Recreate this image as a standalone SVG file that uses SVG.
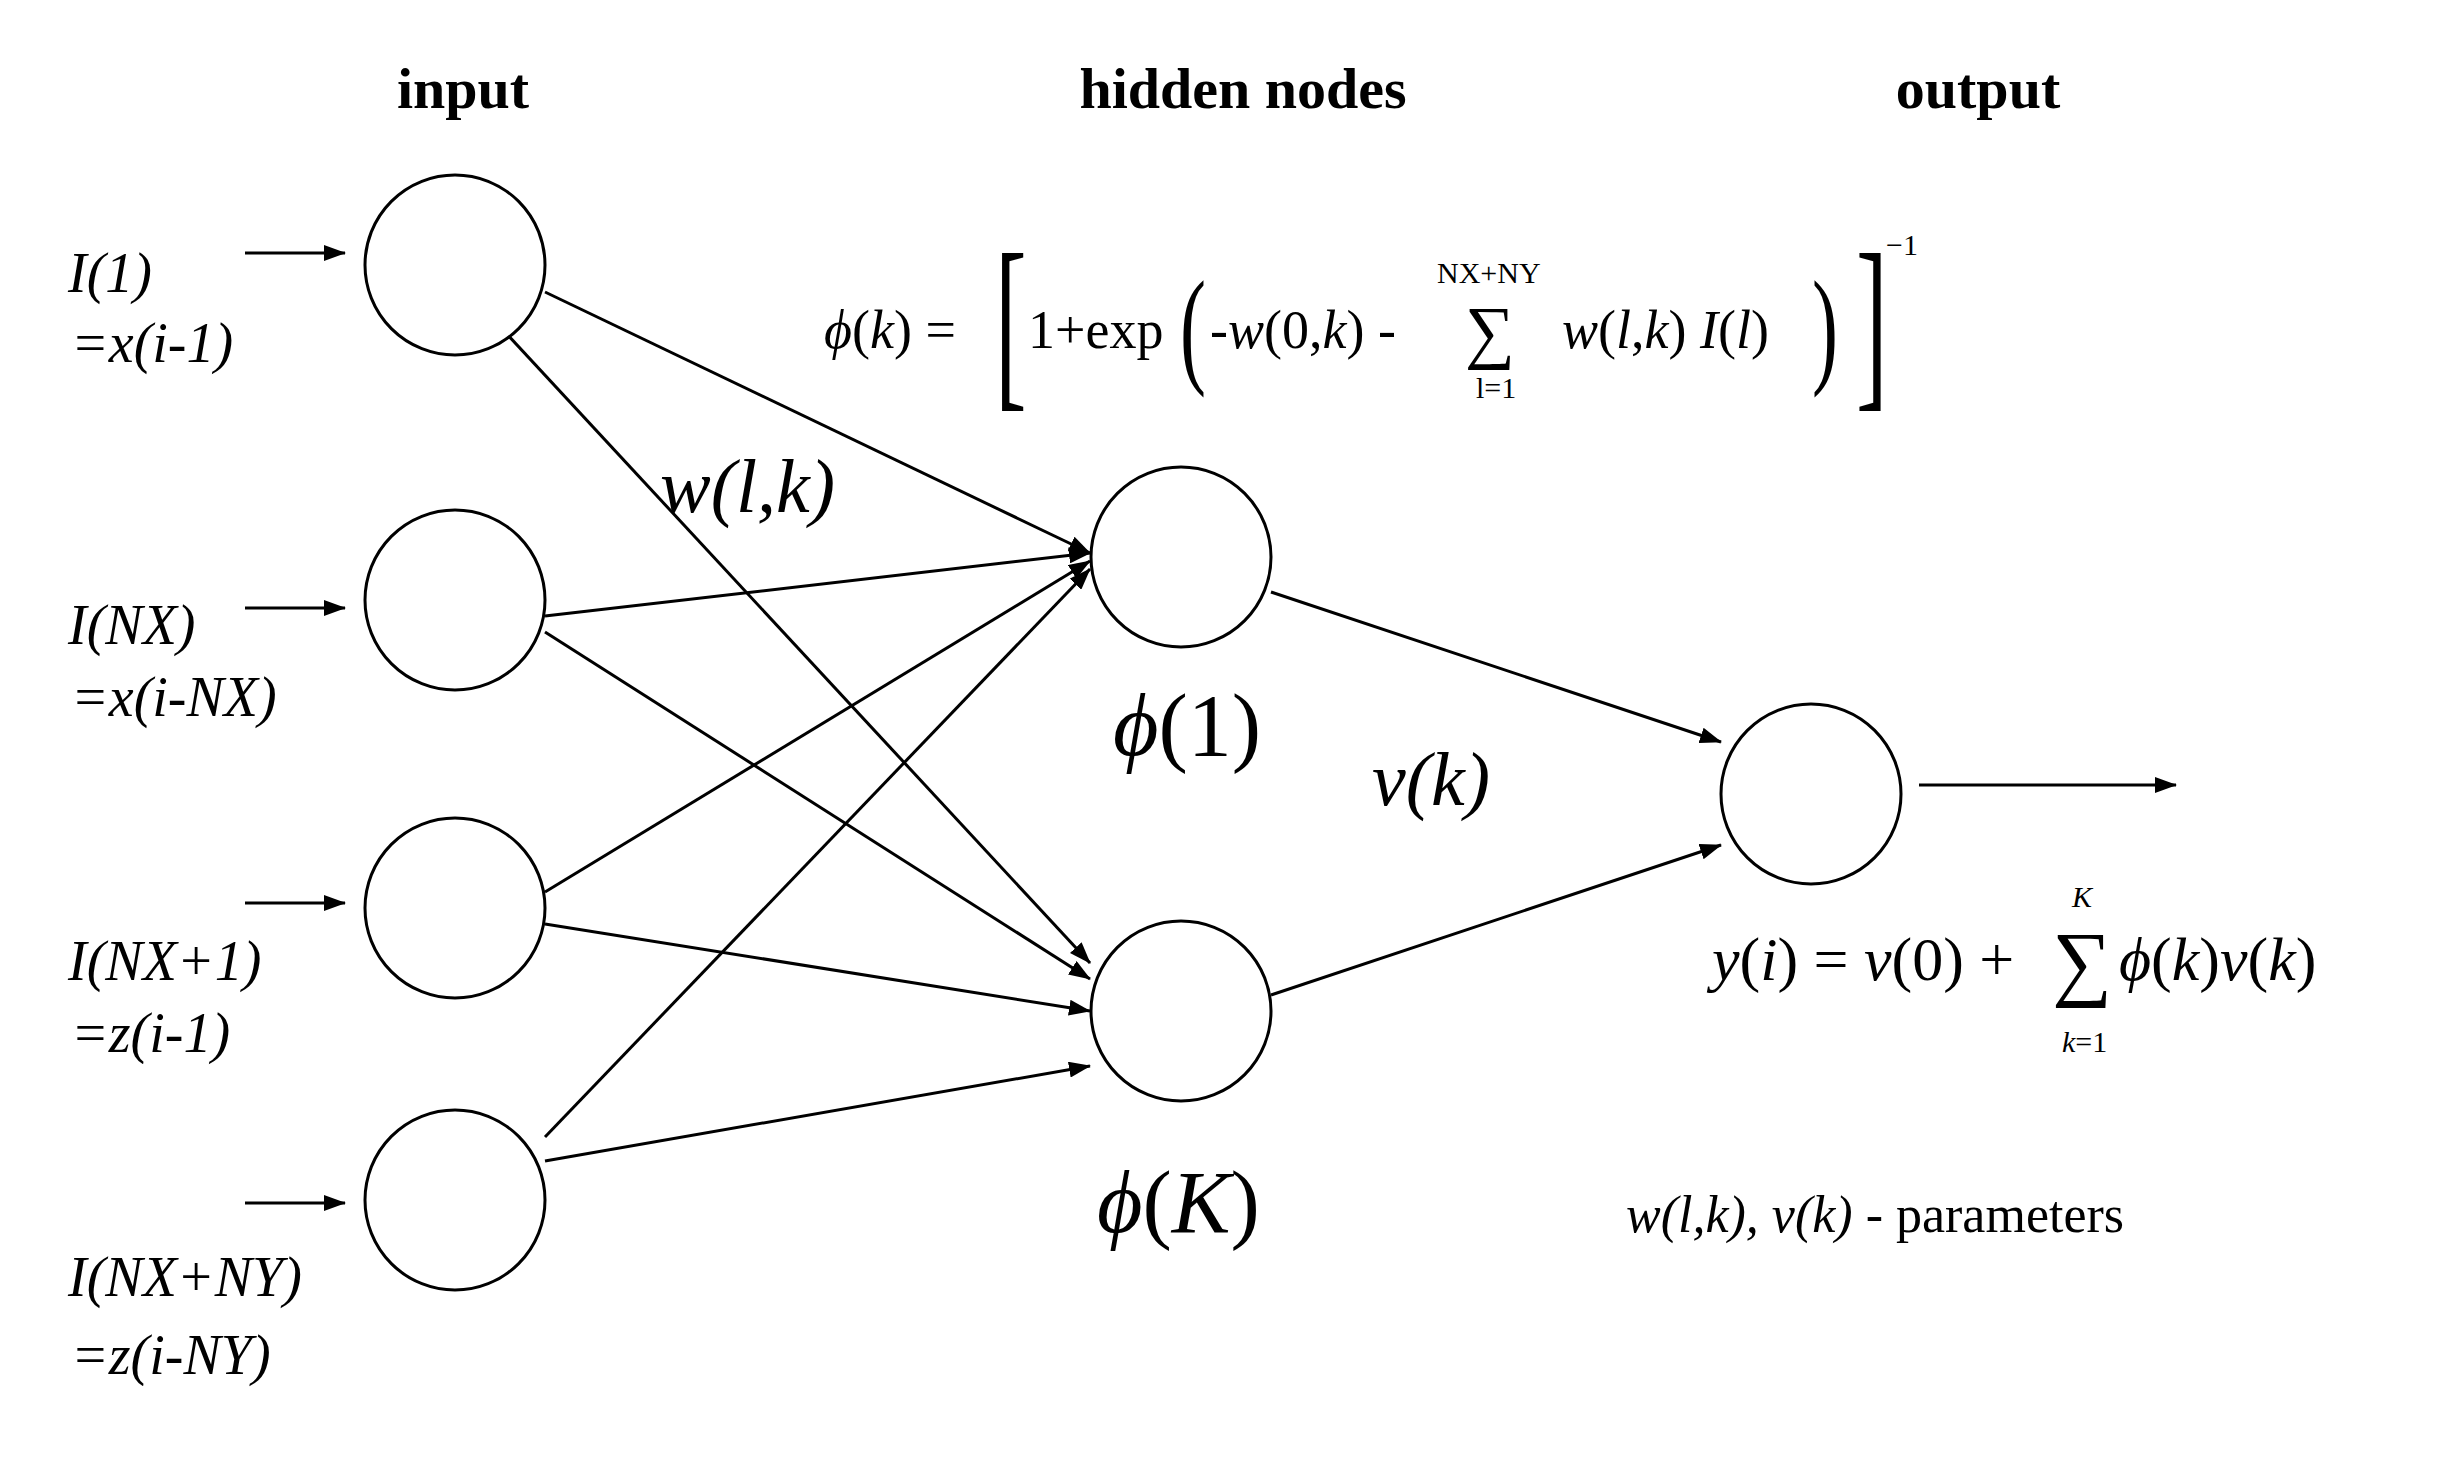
<svg xmlns="http://www.w3.org/2000/svg" width="2448" height="1480" viewBox="0 0 2448 1480">
<style>
.n{fill:#fff;stroke:#000;stroke-width:3}
.c line{stroke:#000;stroke-width:3;marker-end:url(#a)}
text{font-family:"Liberation Serif","DejaVu Serif",serif;fill:#000}
.t{font-weight:bold;font-size:58px;text-anchor:middle}
.i{font-style:italic;font-size:56px}
.f{font-size:54px}
.s{font-size:30px}
</style>
<defs><marker id="a" markerWidth="22" markerHeight="16" refX="21" refY="8" orient="auto" markerUnits="userSpaceOnUse" viewBox="0 0 22 16"><path d="M0,0L22,8L0,16z" fill="#000"/></marker></defs>
<rect width="2448" height="1480" fill="#fff"/>
<text class="t" x="463" y="108">input</text>
<text class="t" x="1243" y="108">hidden nodes</text>
<text class="t" x="1978" y="108">output</text>
<g class="c">
<line x1="245" y1="253" x2="345" y2="253"/>
<line x1="245" y1="608" x2="345" y2="608"/>
<line x1="245" y1="903" x2="345" y2="903"/>
<line x1="245" y1="1203" x2="345" y2="1203"/>
<line x1="545" y1="292" x2="1090" y2="553"/>
<line x1="505" y1="332" x2="1090" y2="963"/>
<line x1="545" y1="616" x2="1090" y2="553"/>
<line x1="545" y1="632" x2="1090" y2="979"/>
<line x1="545" y1="892" x2="1090" y2="561"/>
<line x1="545" y1="924" x2="1090" y2="1011"/>
<line x1="545" y1="1137" x2="1090" y2="569"/>
<line x1="545" y1="1161" x2="1090" y2="1066"/>
<line x1="1271" y1="592" x2="1721" y2="742"/>
<line x1="1271" y1="995" x2="1721" y2="845"/>
<line x1="1919" y1="785" x2="2176" y2="785"/>
</g>
<g id="in1"><circle class="n" cx="455" cy="265" r="90"/></g>
<g id="in2"><circle class="n" cx="455" cy="600" r="90"/></g>
<g id="in3"><circle class="n" cx="455" cy="908" r="90"/></g>
<g id="in4"><circle class="n" cx="455" cy="1200" r="90"/></g>
<g id="h1"><circle class="n" cx="1181" cy="557" r="90"/></g>
<g id="hK"><circle class="n" cx="1181" cy="1011" r="90"/></g>
<g id="out"><circle class="n" cx="1811" cy="794" r="90"/></g>
<text class="i" x="68" y="292">I(1)</text>
<text class="i" x="71" y="362">=x(i-1)</text>
<text class="i" x="68" y="644">I(NX)</text>
<text class="i" x="71" y="716">=x(i-NX)</text>
<text class="i" x="68" y="980">I(NX+1)</text>
<text class="i" x="71" y="1052">=z(i-1)</text>
<text class="i" x="68" y="1296">I(NX+NY)</text>
<text class="i" x="71" y="1374">=z(i-NY)</text>
<text class="i" x="660" y="512" style="font-size:76px">w(l,k)</text>
<text x="1113" y="755" font-size="88"><tspan font-style="italic">ϕ</tspan>(1)</text>
<text x="1097" y="1232" font-size="88"><tspan font-style="italic">ϕ</tspan>(<tspan font-style="italic">K</tspan>)</text>
<text class="i" x="1372" y="805" style="font-size:76px">v(k)</text>
<g class="f">
<text x="824" y="348"><tspan font-style="italic">ϕ</tspan>(<tspan font-style="italic">k</tspan>) =</text>
<text x="995" y="385" transform="translate(995 0) scale(0.5 1) translate(-995 0)" font-size="190">[</text>
<text x="1028" y="348">1+exp</text>
<text x="1180" y="370" transform="translate(1180 0) scale(0.6 1) translate(-1180 0)" font-size="130">(</text>
<text x="1210" y="348">-<tspan font-style="italic">w</tspan>(0,<tspan font-style="italic">k</tspan>) -</text>
<text x="1465" y="355" font-size="70">∑</text>
<text class="s" x="1437" y="283">NX+NY</text>
<text class="s" x="1476" y="398">l=1</text>
<text x="1562" y="348"><tspan font-style="italic">w</tspan>(<tspan font-style="italic">l</tspan>,<tspan font-style="italic">k</tspan>) <tspan font-style="italic">I</tspan>(<tspan font-style="italic">l</tspan>)</text>
<text x="1812" y="370" transform="translate(1812 0) scale(0.6 1) translate(-1812 0)" font-size="130">)</text>
<text x="1856" y="385" transform="translate(1856 0) scale(0.5 1) translate(-1856 0)" font-size="190">]</text>
<text class="s" x="1886" y="255">−1</text>
</g>
<g font-size="62">
<text x="1712" y="980"><tspan font-style="italic">y</tspan>(<tspan font-style="italic">i</tspan>) = <tspan font-style="italic">v</tspan>(0) +</text>
<text x="2052" y="990" font-size="84">∑</text>
<text class="s" x="2072" y="907" font-style="italic">K</text>
<text class="s" x="2062" y="1052"><tspan font-style="italic">k</tspan>=1</text>
<text x="2119" y="980"><tspan font-style="italic">ϕ</tspan>(<tspan font-style="italic">k</tspan>)<tspan font-style="italic">v</tspan>(<tspan font-style="italic">k</tspan>)</text>
</g>
<text x="1626" y="1232" font-size="52"><tspan font-style="italic">w(l,k), v(k)</tspan> - parameters</text>
</svg>
